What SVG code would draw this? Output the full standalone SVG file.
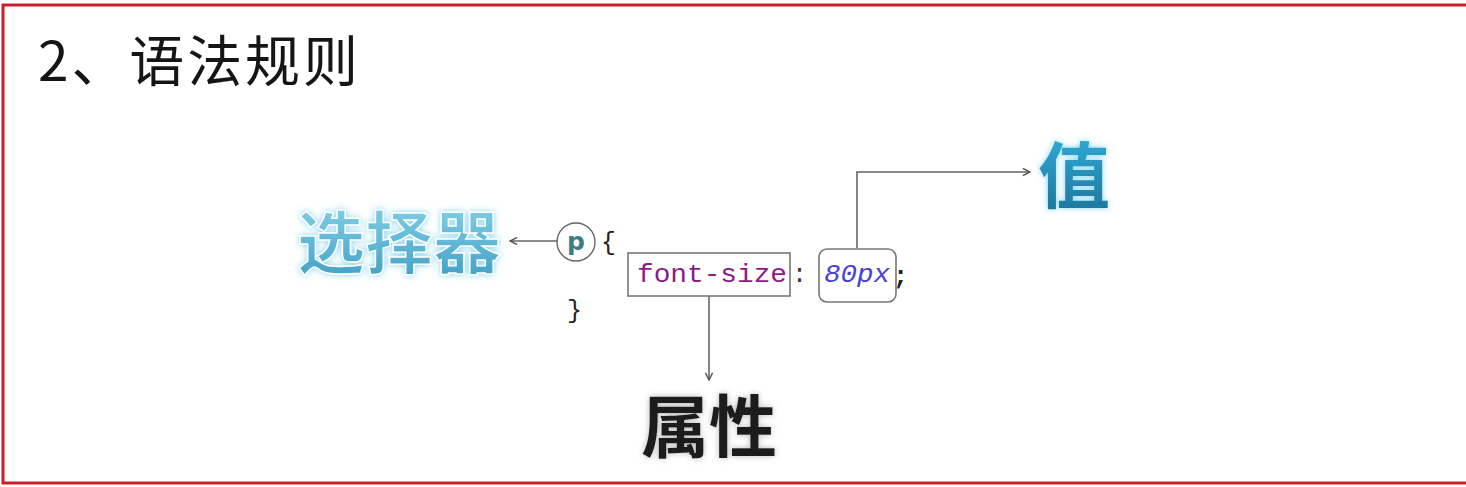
<svg xmlns="http://www.w3.org/2000/svg" width="1466" height="487" viewBox="0 0 1466 487">
<style>
.title{font-family:"Noto Sans CJK SC","Liberation Sans",sans-serif;font-size:55px;font-weight:normal;fill:#151515}
.big{font-family:"Noto Sans CJK SC",sans-serif;font-weight:bold}
.code{font-family:"Liberation Mono","DejaVu Sans Mono",monospace;font-size:25px}
.conn{stroke:#666;stroke-width:1.6;fill:none}
.box{fill:none;stroke:#777;stroke-width:1.6}
</style>
<defs>
<marker id="arr" viewBox="0 0 10 10" refX="9" refY="5" markerWidth="9" markerHeight="9" markerUnits="userSpaceOnUse" orient="auto">
<path d="M1 1 L9 5 L1 9" fill="none" stroke="#555" stroke-width="1.6"/>
</marker>
<linearGradient id="blueG" x1="0" y1="0" x2="0" y2="1">
<stop offset="0" stop-color="#8fd8ee"/>
<stop offset="1" stop-color="#3a9cc0"/>
</linearGradient>
<linearGradient id="valG" x1="0" y1="0" x2="0" y2="1">
<stop offset="0" stop-color="#35b6e0"/>
<stop offset="1" stop-color="#1a6f95"/>
</linearGradient>
<filter id="glowK" x="-20%" y="-20%" width="140%" height="140%">
<feGaussianBlur in="SourceAlpha" stdDeviation="3" result="b"/>
<feFlood flood-color="#888" flood-opacity="0.6"/>
<feComposite operator="in" in2="b"/>
<feMerge><feMergeNode/><feMergeNode in="SourceGraphic"/></feMerge>
</filter>
<filter id="glowC" x="-20%" y="-20%" width="140%" height="140%">
<feGaussianBlur in="SourceAlpha" stdDeviation="3" result="b"/>
<feFlood flood-color="#4fc3e8" flood-opacity="0.7"/>
<feComposite operator="in" in2="b"/>
<feMerge><feMergeNode/><feMergeNode in="SourceGraphic"/></feMerge>
</filter>
</defs>
<rect x="0" y="0" width="1466" height="487" fill="#fff"/>
<path d="M1466 5 H3 V483 H1466" fill="none" stroke="#c8202a" stroke-width="3"/>
<text class="title" x="38" y="81" textLength="320" lengthAdjust="spacing">2、语法规则</text>

<g id="connectors">
<line class="conn" x1="557" y1="241" x2="510" y2="241" marker-end="url(#arr)"/>
<polyline class="conn" points="857,248 857,172 1030,172" marker-end="url(#arr)"/>
<line class="conn" x1="709" y1="296" x2="709" y2="380" marker-end="url(#arr)"/>
</g>

<g id="selector">
<text class="big" x="297" y="268" font-size="68" fill="url(#blueG)" stroke="#fff" stroke-width="1.5" filter="url(#glowC)" textLength="204" lengthAdjust="spacingAndGlyphs">选择器</text>
</g>
<g id="p-node">
<circle cx="576" cy="242" r="19" fill="#fff" stroke="#666" stroke-width="1.4"/>
<text x="576" y="250" text-anchor="middle" font-family="DejaVu Sans,sans-serif" font-weight="bold" font-size="25" fill="#3a7f83">p</text>
<text class="code" x="601" y="250" fill="#222">{</text>
<text class="code" x="567" y="318" fill="#222">}</text>
</g>
<g id="property-box">
<rect class="box" x="628" y="253" width="162" height="43"/>
<text class="code" x="637" y="282" fill="#8a1c8a" textLength="150" lengthAdjust="spacingAndGlyphs">font-size</text>
<text class="code" x="792" y="282" fill="#333">:</text>
</g>
<g id="value-box">
<rect class="box" x="819" y="249" width="77" height="53" rx="8"/>
<text class="code" x="824" y="282" fill="#4a3fd6" font-style="italic" textLength="66" lengthAdjust="spacingAndGlyphs">80px</text>
<text class="code" x="893" y="284" fill="#222" font-weight="bold">;</text>
</g>
<g id="value-label">
<text class="big" x="1038" y="202" font-size="72" fill="url(#valG)" filter="url(#glowC)">值</text>
</g>
<g id="property-label">
<text class="big" x="641" y="452" font-size="68" fill="#1c1c1c" filter="url(#glowK)">属性</text>
</g>
</svg>
